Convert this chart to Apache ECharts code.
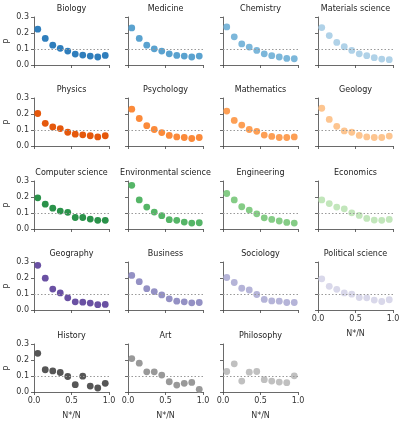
<!DOCTYPE html>
<html>
<head>
<meta charset="utf-8">
<script src="https://cdn.jsdelivr.net/npm/echarts@6/dist/echarts.min.js"></script>
<style>
  html, body { margin: 0; padding: 0; background: #fff; }
  #main { width: 406px; height: 423px; }
</style>
</head>
<body>
<div id="main"></div>
<script>
// fields, in panel order (row by row)
var fields = ['Biology', 'Medicine', 'Chemistry', 'Materials science',
  'Physics', 'Psychology', 'Mathematics', 'Geology',
  'Computer science', 'Environmental science', 'Engineering', 'Economics',
  'Geography', 'Business', 'Sociology', 'Political science',
  'History', 'Art', 'Philosophy'];

// bin centres of N*/N
var xBins = [0.05, 0.15, 0.25, 0.35, 0.45, 0.55, 0.65, 0.75, 0.85, 0.95];

var biologyP     = [0.224, 0.166, 0.124, 0.104, 0.087, 0.068, 0.062, 0.056, 0.050, 0.060];
var medicineP    = [0.232, 0.166, 0.124, 0.101, 0.087, 0.070, 0.060, 0.056, 0.050, 0.056];
var chemistryP   = [0.238, 0.176, 0.132, 0.112, 0.091, 0.070, 0.058, 0.050, 0.041, 0.039];
var materialsP   = [0.234, 0.184, 0.141, 0.114, 0.091, 0.070, 0.058, 0.046, 0.037, 0.033];
var physicsP     = [0.203, 0.142, 0.119, 0.109, 0.086, 0.074, 0.070, 0.064, 0.057, 0.064];
var psychologyP  = [0.230, 0.172, 0.127, 0.103, 0.084, 0.066, 0.057, 0.053, 0.047, 0.053];
var mathematicsP = [0.218, 0.160, 0.131, 0.103, 0.092, 0.068, 0.060, 0.053, 0.053, 0.057];
var geologyP     = [0.236, 0.166, 0.123, 0.094, 0.086, 0.066, 0.057, 0.053, 0.053, 0.062];
var compsciP     = [0.195, 0.155, 0.130, 0.112, 0.104, 0.072, 0.072, 0.062, 0.054, 0.054];
var envsciP      = [0.273, 0.182, 0.137, 0.106, 0.083, 0.058, 0.054, 0.043, 0.037, 0.039];
var engineeringP = [0.222, 0.182, 0.139, 0.118, 0.095, 0.070, 0.060, 0.050, 0.041, 0.037];
var economicsP   = [0.182, 0.159, 0.137, 0.126, 0.101, 0.085, 0.066, 0.056, 0.054, 0.060];
var geographyP   = [0.279, 0.199, 0.131, 0.107, 0.076, 0.051, 0.049, 0.043, 0.033, 0.035];
var businessP    = [0.216, 0.177, 0.133, 0.115, 0.094, 0.070, 0.055, 0.051, 0.045, 0.047];
var sociologyP   = [0.203, 0.172, 0.136, 0.125, 0.097, 0.066, 0.057, 0.055, 0.047, 0.047];
var polsciP      = [0.195, 0.148, 0.129, 0.107, 0.099, 0.078, 0.076, 0.062, 0.053, 0.064];
var historyP     = [0.242, 0.139, 0.132, 0.122, 0.097, 0.046, 0.099, 0.037, 0.025, 0.054];
var artP         = [0.209, 0.180, 0.126, 0.126, 0.106, 0.064, 0.043, 0.054, 0.060, 0.017];
var philosophyP  = [0.128, 0.176, 0.068, 0.124, 0.128, 0.077, 0.068, 0.062, 0.058, 0.101];

var allValues = [biologyP, medicineP, chemistryP, materialsP,
  physicsP, psychologyP, mathematicsP, geologyP,
  compsciP, envsciP, engineeringP, economicsP,
  geographyP, businessP, sociologyP, polsciP,
  historyP, artP, philosophyP];

var colors = ['#2f7ebc', '#5aa2cf', '#7cb7da', '#b0d2e8',
  '#e5580c', '#fb8a3a', '#fd9f55', '#fdc590',
  '#2a924a', '#55b567', '#85cc86', '#c2e6bb',
  '#6a51a3', '#9491c4', '#b5b4d8', '#d9d8ea',
  '#565656', '#999999', '#c0c0c0'];

var yTicks = [0, 0.3, 0.1];   // min, max, step
var xTicks = [0, 1, 0.5];
var refLevel = 0.1;

var colLeft = [34, 128, 223, 318];
var rowTop = [17, 98, 181, 262, 344];
var plotW = 75, plotH = 48;

function initchart() {
  var myChart = echarts.init(document.getElementById('main'));
  var grids = [], xAxes = [], yAxes = [], series = [], texts = [];
  var font = 'DejaVu Sans';

  for (var i = 0; i < fields.length; i++) {
    var r = Math.floor(i / 4), c = i % 4;
    // x labels only when no panel sits below
    var showX = (i + 4) >= fields.length;
    var showY = c === 0;

    grids.push({ left: colLeft[c], top: rowTop[r], width: plotW, height: plotH });

    xAxes.push({
      gridIndex: i, type: 'value', min: xTicks[0], max: xTicks[1], interval: xTicks[2],
      splitLine: { show: false },
      axisLine: { show: true, lineStyle: { color: '#444', width: 0.8 } },
      axisTick: { show: true, length: 3, lineStyle: { color: '#444', width: 0.8 } },
      axisLabel: { show: showX, fontSize: 8, color: '#333', margin: 5, fontFamily: font,
        formatter: function (v) { return v.toFixed(1); } },
      name: showX ? 'N*/N' : '', nameLocation: 'middle', nameGap: 20,
      nameTextStyle: { fontSize: 8, color: '#333', fontFamily: font }
    });

    yAxes.push({
      gridIndex: i, type: 'value', min: yTicks[0], max: yTicks[1], interval: yTicks[2],
      splitLine: { show: false },
      axisLine: { show: true, lineStyle: { color: '#444', width: 0.8 } },
      axisTick: { show: true, length: 3, lineStyle: { color: '#444', width: 0.8 } },
      axisLabel: { show: showY, fontSize: 8, color: '#333', margin: 5, fontFamily: font,
        formatter: function (v) { return v.toFixed(1); } },
      name: showY ? 'P' : '', nameLocation: 'middle', nameGap: 22, nameRotate: 90,
      nameTextStyle: { fontSize: 8, color: '#333', fontFamily: font }
    });

    var pts = xBins.map(function (x, k) { return [x, allValues[i][k]]; });
    series.push({
      type: 'scatter', xAxisIndex: i, yAxisIndex: i,
      data: pts, symbolSize: 6.8,
      itemStyle: { color: colors[i], opacity: 1 },
      markLine: {
        silent: true, symbol: 'none', animation: false,
        label: { show: false },
        lineStyle: { color: '#999', type: [1.5, 2], width: 1 },
        data: [{ yAxis: refLevel }]
      },
      z: 3
    });

    texts.push({
      type: 'text',
      x: colLeft[c] + plotW / 2, y: rowTop[r] - 8.5,
      style: { text: fields[i], textAlign: 'center', textVerticalAlign: 'middle',
        fontSize: 8, fill: '#222', fontFamily: font }
    });
  }

  var option = {
    animation: false,
    grid: grids,
    xAxis: xAxes,
    yAxis: yAxes,
    series: series,
    graphic: texts
  };
  myChart.setOption(option);
}

initchart();
</script>
</body>
</html>
